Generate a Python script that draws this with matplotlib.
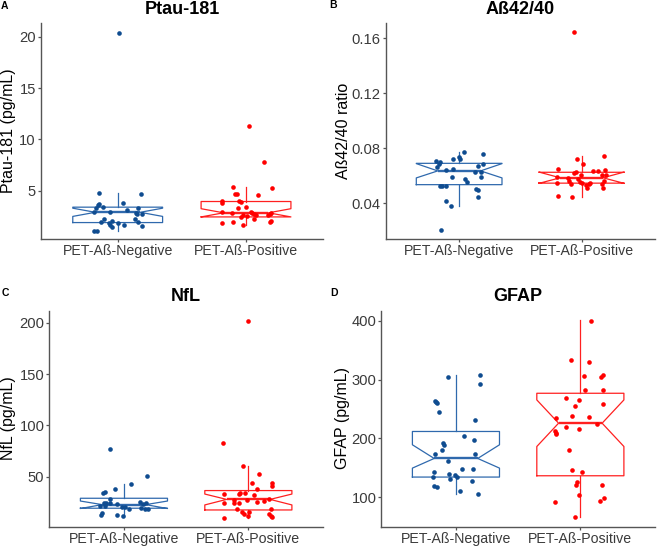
import numpy as np
import matplotlib
matplotlib.use("Agg")
import matplotlib.pyplot as plt

plt.rcParams['font.family'] = ['Liberation Sans', 'DejaVu Sans']

groups = ["PET-A\u00df-Negative", "PET-A\u00df-Positive"]
blue = "#0F4C90"
blue_box = "#2F69AD"
red = "#FF0000"
red_box = "#FF2020"

# ---- Ptau-181 ----
ptau_neg = [20.4, 4.75, 4.68, 3.84, 3.6, 3.35, 3.67, 3.44, 2.96, 3.35, 2.89, 3.12, 2.8, 2.7,
            2.7, 1.92, 2.24, 2.08, 2.21, 1.98, 1.66, 1.5, 1.89, 1.66, 1.6, 1.11, 1.11, 1.82]
ptau_neg_jit = [0.011, -0.145, 0.183, 0.04, -0.155, -0.169, -0.143, -0.112, -0.182, 0.162, -0.059,
                0.071, 0.144, 0.154, 0.188, -0.13, -0.104, -0.046, 0.136, 0.162, -0.059, -0.046,
                0.005, 0.052, 0.188, -0.184, -0.163, -0.065]
ptau_pos = [11.3, 7.82, 5.33, 5.23, 4.68, 4.68, 4.55, 4.03, 3.77, 3.97, 3.87, 3.29, 3.44, 2.9,
            2.96, 2.86, 2.8, 2.73, 2.63, 2.86, 2.73, 2.63, 2.65, 2.45, 2.55, 2.2, 2.0, 2.1, 1.82,
            1.98, 1.63]
ptau_pos_jit = [0.02, 0.139, -0.103, 0.199, -0.082, -0.069, 0.095, -0.186, -0.191, -0.056, -0.038,
                -0.064, 0.002, -0.191, 0.035, 0.043, -0.108, 0.066, 0.074, 0.191, 0.184, 0.17,
                -0.027, -0.038, 0.009, 0.061, 0.184, 0.191, -0.186, -0.103, -0.022]
# whislo, q1, cilo, med, cihi, q3, whishi
ptau_box_neg = [1.11, 1.9, 2.5, 2.9, 3.3, 3.4, 4.75]
ptau_box_pos = [1.63, 2.45, 2.45, 2.85, 3.25, 3.95, 5.33]

# ---- Ab42/40 ----
ab_neg = [0.0710, 0.0703, 0.0686, 0.0666, 0.0720, 0.0739, 0.0722, 0.0771, 0.0759, 0.0686, 0.0671,
          0.0642, 0.0647, 0.0625, 0.0630, 0.0594, 0.0589, 0.0575, 0.0553, 0.0528, 0.0526, 0.0528,
          0.0504, 0.0497, 0.0448, 0.0417, 0.0383, 0.0206]
ab_neg_jit = [-0.186, -0.154, -0.167, -0.178, -0.051, -0.002, 0.01, 0.037, 0.194, 0.194, 0.154,
              -0.105, -0.051, 0.127, 0.181, -0.059, 0.181, 0.051, 0.067, -0.159, -0.141, -0.105,
              0.141, 0.154, 0.154, -0.11, -0.064, -0.151]
ab_pos = [0.1641, 0.0744, 0.0719, 0.0686, 0.0650, 0.0635, 0.0637, 0.0642, 0.0618, 0.0628, 0.0606,
          0.0606, 0.0594, 0.0606, 0.0582, 0.0565, 0.0574, 0.0557, 0.0550, 0.0533, 0.0550, 0.0540,
          0.0565, 0.0540, 0.0545, 0.0538, 0.0508, 0.0508, 0.0456, 0.0443]
ab_pos_jit = [-0.064, 0.184, -0.039, 0.012, -0.19, 0.094, 0.135, 0.192, -0.061, -0.042, -0.002,
              0.165, -0.198, 0.198, -0.11, -0.102, -0.029, -0.015, 0.007, 0.034, 0.069, 0.061,
              0.184, 0.17, -0.198, -0.088, 0.176, 0.047, -0.192, -0.075]
ab_box_neg = [0.0383, 0.0535, 0.0584, 0.0635, 0.0688, 0.0690, 0.0771]
ab_box_pos = [0.0443, 0.0546, 0.0544, 0.0585, 0.0627, 0.0625, 0.0744]

# ---- NfL ----
nfl_neg = [77, 51, 42.5, 38.3, 33.8, 34.8, 28, 24.8, 24.2, 24.8, 23.2, 20.9, 19, 25.5, 24.2, 23.2,
           20, 18.4, 18.4, 21.6, 21, 20.2, 12.8, 14.5, 12.8, 11.8]
nfl_neg_jit = [-0.114, 0.189, 0.06, -0.068, -0.168, -0.149, -0.114, -0.162, -0.141, -0.114, -0.055,
               0.012, 0.041, 0.127, 0.175, 0.154, 0.141, 0.167, 0.194, -0.195, -0.154, -0.012,
               -0.186, -0.176, -0.055, -0.007]
nfl_pos = [202, 82.5, 60.3, 52.5, 44, 43.4, 40.8, 37.9, 33, 33, 34, 33.7, 32, 28.7, 27.1, 27.1,
           25.5, 26.5, 24.8, 24.2, 24.8, 18.7, 18.7, 16.1, 13.8, 15.8, 11.3, 13.2, 11.3, 10.6, 9.6]
nfl_pos_jit = [-0.006, -0.207, -0.04, 0.083, 0.027, 0.187, 0.187, 0.067, -0.193, -0.078, -0.067,
               -0.027, 0.043, 0.163, -0.113, -0.01, 0.067, 0.129, -0.199, -0.113, -0.072, -0.094,
               0.182, -0.051, -0.038, 0.008, -0.006, 0.163, 0.182, 0.191, -0.195]
nfl_box_neg = [11.8, 19.3, 19.0, 22.8, 26.3, 29.0, 42.5]
nfl_box_pos = [9.6, 17.6, 22.5, 27.9, 33.1, 36.5, 60.3]

# ---- GFAP ----
gfap_neg = [305.1, 307.9, 292.1, 264.4, 262.1, 261, 245.2, 231.6, 204.5, 197.2, 192.1, 188.7, 180.2,
            172.9, 172.9, 161, 148.6, 148.6, 142.9, 139, 137.9, 134, 135, 130.5, 127.7, 118.6, 117,
            110.2, 105.1]
gfap_neg_jit = [-0.063, 0.19, 0.19, -0.165, -0.16, -0.155, -0.135, 0.154, 0.068, 0.149, -0.106, -0.1,
                -0.114, -0.167, 0.154, -0.06, 0.052, 0.138, -0.175, -0.055, -0.004, 0.01, -0.183,
                -0.05, 0.127, -0.175, -0.151, 0.036, 0.181]
gfap_pos = [400, 333.9, 329.4, 305.6, 304, 307.9, 281.9, 283, 269.5, 265.5, 255.9, 258.2, 235.6,
            238.4, 236.7, 225.4, 220.3, 215.8, 211.9, 209.6, 207.3, 179.7, 145.8, 143.5, 126.6,
            120.9, 121.5, 103.4, 92.7, 94.4, 98.3, 66.1]
gfap_pos_jit = [0.083, -0.078, 0.067, 0.03, 0.163, 0.185, 0.04, 0.179, -0.115, -0.008, -0.046, 0.185,
                -0.195, -0.067, 0.067, 0.131, -0.115, -0.008, -0.203, -0.197, -0.195, -0.094,
                -0.067, 0.016, -0.027, -0.032, 0.174, -0.01, -0.203, 0.158, 0.19, -0.046]
gfap_box_neg = [105.1, 134.5, 149.7, 166.1, 189.3, 211.9, 308]
gfap_box_pos = [66.1, 136.7, 186.4, 226, 265.5, 276.8, 401]

W, H = 658, 547
fig = plt.figure(figsize=(W / 100, H / 100), dpi=100)


def px_axes(left, right, top, bottom):
    return fig.add_axes([left / W, 1 - bottom / H, (right - left) / W, (bottom - top) / H])


def to_stats(b):
    keys = ["whislo", "q1", "cilo", "med", "cihi", "q3", "whishi"]
    d = dict(zip(keys, b))
    d["fliers"] = []
    return d


def panel(ax, neg, neg_jit, pos, pos_jit, box_neg, box_pos, ylim, yticks, fmt):
    for i, (b, col) in enumerate([(box_neg, blue_box), (box_pos, red_box)]):
        ax.bxp([to_stats(b)], positions=[i + 1], widths=0.7, shownotches=True,
               showcaps=False, showfliers=False, patch_artist=False,
               boxprops=dict(color=col, linewidth=0.9),
               whiskerprops=dict(color=col, linewidth=0.9),
               medianprops=dict(color=col, linewidth=1.7), manage_ticks=False)
    ax.scatter(1 + np.array(neg_jit), neg, s=11, color=blue, linewidths=0, zorder=5)
    ax.scatter(2 + np.array(pos_jit), pos, s=11, color=red, linewidths=0, zorder=5)
    ax.set_xlim(0.4, 2.6)
    ax.set_ylim(*ylim)
    ax.set_xticks([1, 2])
    ax.set_xticklabels(groups)
    ax.set_yticks(yticks)
    ax.set_yticklabels([fmt.format(t) for t in yticks])
    for s in ["top", "right"]:
        ax.spines[s].set_visible(False)
    for s in ["left", "bottom"]:
        ax.spines[s].set_color("#555555")
        ax.spines[s].set_linewidth(1.0)
    ax.tick_params(axis="both", labelcolor="#3A3A3A", color="#555555",
                   length=2.5, width=0.9, pad=1)
    ax.tick_params(axis="x", labelsize=10.2)
    ax.tick_params(axis="y", labelsize=10.6)
    ax.patch.set_alpha(0)


axA = px_axes(40.7, 323, 23, 239)
panel(axA, ptau_neg, ptau_neg_jit, ptau_pos, ptau_pos_jit, ptau_box_neg, ptau_box_pos,
      (0.3, 21.33), [5, 10, 15, 20], "{:g}")
axB = px_axes(385.7, 655, 23, 239)
panel(axB, ab_neg, ab_neg_jit, ab_pos, ab_pos_jit, ab_box_neg, ab_box_pos,
      (0.014, 0.171), [0.04, 0.08, 0.12, 0.16], "{:.2f}")
axC = px_axes(49.3, 323, 310.7, 526.7)
panel(axC, nfl_neg, nfl_neg_jit, nfl_pos, nfl_pos_jit, nfl_box_neg, nfl_box_pos,
      (1.3, 211.7), [50, 100, 150, 200], "{:g}")
axD = px_axes(381.3, 655, 310.7, 527)
panel(axD, gfap_neg, gfap_neg_jit, gfap_pos, gfap_pos_jit, gfap_box_neg, gfap_box_pos,
      (49.7, 417), [100, 200, 300, 400], "{:g}")


def ftext(x, y, s, **kw):
    fig.text(x / W, 1 - y / H, s, **kw)


# titles
ftext(182, 14, "Ptau-181", ha="center", va="baseline", fontsize=13, fontweight="bold")
ftext(520, 14, "A\u00df42/40", ha="center", va="baseline", fontsize=13, fontweight="bold")
ftext(186, 301, "NfL", ha="center", va="baseline", fontsize=13, fontweight="bold")
ftext(518, 301, "GFAP", ha="center", va="baseline", fontsize=13, fontweight="bold")

# panel letters
ftext(1, 9, "A", ha="left", va="baseline", fontsize=7.5, fontweight="bold")
ftext(329, 8, "B", ha="left", va="baseline", fontsize=7.5, fontweight="bold")
ftext(2, 296, "C", ha="left", va="baseline", fontsize=7.5, fontweight="bold")
ftext(330, 296, "D", ha="left", va="baseline", fontsize=7.5, fontweight="bold")

# y labels
ftext(9, 131, "Ptau-181 (pg/mL)", ha="center", va="center", rotation=90, fontsize=11.5)
ftext(343.5, 131, "A\u00df42/40 ratio", ha="center", va="center", rotation=90, fontsize=11.5)
ftext(9, 418, "NfL (pg/mL)", ha="center", va="center", rotation=90, fontsize=11.5)
ftext(343, 418, "GFAP (pg/mL)", ha="center", va="center", rotation=90, fontsize=11.5)

fig.savefig("out.png", dpi=100, facecolor="white")
